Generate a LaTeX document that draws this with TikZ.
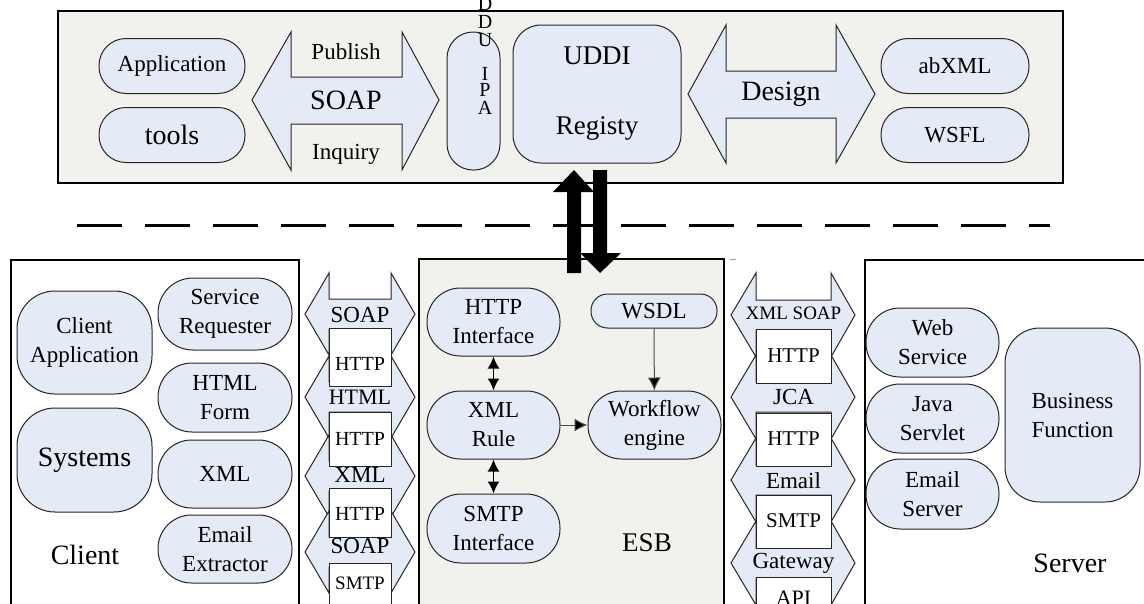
\documentclass[tikz,border=0pt]{standalone}
\usepackage{fontspec}
\setmainfont{Liberation Serif}
\usetikzlibrary{arrows.meta}
\definecolor{pillfill}{HTML}{E4EAF6}
\definecolor{boxfill}{HTML}{F1F2EE}
\newcommand{\fsz}[2]{\fontsize{#1}{#2}\selectfont}
\tikzset{
  pill/.style={draw=black!85, line width=1pt, fill=pillfill, align=center, inner sep=0pt, font=\fsz{23}{29}},
  frame/.style={draw=black, line width=1.6pt},
  blockarrow/.style={draw=black!85, line width=1pt, fill=pillfill},
  whitebox/.style={draw=black!85, line width=1pt, fill=white},
  txt/.style={inner sep=0pt, align=center, font=\fsz{23}{29}},
  bigtxt/.style={inner sep=0pt, align=center, font=\fsz{28}{34}},
  conn/.style={line width=1.8pt, {Latex[length=12pt,width=12pt]}-{Latex[length=12pt,width=12pt]}},
  thinconn/.style={draw=black!70, line width=1pt, -{Latex[length=13pt,width=13pt,fill=black]}},
}
\begin{document}
\begin{tikzpicture}[x=1pt,y=-1pt]
\useasboundingbox (0,0) rectangle (1144,603);
\fill[white] (0,0) rectangle (1144,603);

% ---------- top registry box ----------
\draw[frame, fill=boxfill] (58,11) rectangle (1063,183);

\node[pill, minimum width=146pt, minimum height=55pt, rounded corners=27pt] (app) at (172,66) {Application};
\node[pill, minimum width=146pt, minimum height=55pt, rounded corners=27pt, font=\fsz{28}{34}] (tools) at (172,135) {tools};

\draw[blockarrow] (252,100) -- (291,32) -- (291,77) -- (402,77) -- (402,32) -- (439,100)
  -- (402,170) -- (402,124) -- (291,124) -- (291,170) -- cycle;
\node[txt] (publish) at (346,52) {Publish};
\node[bigtxt] (soaptop) at (346,100) {SOAP};
\node[txt] (inquiry) at (346,154) {Inquiry};

\node[pill, minimum width=53pt, minimum height=138pt, rounded corners=26pt] (api) at (473.5,101) {};
\begin{scope}[every node/.style={inner sep=0pt, font=\fsz{20}{20}}]
\node (l0) at (485,4) {D};
\node (l1) at (485,22) {D};
\node (l2) at (485,40) {U};
\node (l3) at (485,74) {I};
\node (l4) at (485,90) {P};
\node (l5) at (485,108) {A};
\end{scope}

\node[pill, minimum width=168pt, minimum height=138pt, rounded corners=28pt, font=\fsz{27}{70}] (uddi) at (597,94) {UDDI\\Registy};

\draw[blockarrow] (688,94) -- (726,25) -- (726,71) -- (836,71) -- (836,25) -- (875,94)
  -- (836,163) -- (836,118) -- (726,118) -- (726,163) -- cycle;
\node[bigtxt] (design) at (781,94) {Design};

\node[pill, minimum width=148pt, minimum height=55pt, rounded corners=27pt] (abxml) at (955,66) {abXML};
\node[pill, minimum width=148pt, minimum height=55pt, rounded corners=27pt] (wsfl) at (955,135) {WSFL};

% ---------- dashed separator ----------
\draw[line width=3pt, dash pattern=on 45pt off 23pt] (77,225) -- (1050,225);

% ---------- bottom containers ----------
\draw[frame, fill=white] (11,260) rectangle (299,640);
\draw[frame, fill=boxfill] (419,259) rectangle (724,640);
\draw[frame, fill=white] (865,260) rectangle (1160,640);
\draw[black!40, line width=1pt] (730,259) -- (736,259);

% ---------- heavy arrows ----------
\fill[black] (567,273) -- (581,273) -- (581,192) -- (594,192) -- (574,170) -- (553,192) -- (567,192) -- cycle;
\fill[black] (593,170) -- (607,170) -- (607,253) -- (621,253) -- (600,273) -- (580,253) -- (593,253) -- cycle;

% ---------- client ----------
\node[pill, minimum width=135pt, minimum height=103pt, rounded corners=38pt] (capp) at (84.5,342.5) {Client\\Application};
\node[pill, minimum width=135pt, minimum height=104pt, rounded corners=38pt, font=\fsz{28}{34}] (sys) at (84.5,460) {Systems};
\node[pill, minimum width=134pt, minimum height=72pt, rounded corners=35pt] (sreq) at (225,314) {Service\\Requester};
\node[pill, minimum width=134pt, minimum height=69pt, rounded corners=34pt] (hform) at (225,397.5) {HTML\\Form};
\node[pill, minimum width=134pt, minimum height=68pt, rounded corners=33.5pt] (xmlc) at (225,474) {XML};
\node[pill, minimum width=134pt, minimum height=68pt, rounded corners=33.5pt] (eext) at (225,549) {Email\\Extractor};
\node[bigtxt] (clientlbl) at (85,555) {Client};

% ---------- left protocol column ----------
\foreach \c in {314,397,476,552}
  \draw[blockarrow] (305,\c) -- (329,\c-41) -- (329,\c-15) -- (391,\c-15) -- (391,\c-41) -- (415,\c)
    -- (391,\c+41) -- (391,\c+15) -- (329,\c+15) -- (329,\c+41) -- cycle;
\draw[whitebox] (329,328) rectangle (391,386);
\draw[whitebox] (329,412) rectangle (391,466);
\draw[whitebox] (329,488) rectangle (391,537);
\draw[whitebox] (329,563) rectangle (391,640);
\node[txt] (lsoap1) at (360,315) {SOAP};
\node[txt, font=\fsz{20}{24}] (lhttp1) at (360,364) {HTTP};
\node[txt, font=\fsz{22}{26}] (lhtml) at (360,397) {HTML};
\node[txt, font=\fsz{20}{24}] (lhttp2) at (360,439) {HTTP};
\node[txt] (lxml) at (360,475) {XML};
\node[txt, font=\fsz{20}{24}] (lhttp3) at (360,514) {HTTP};
\node[txt] (lsoap2) at (360,546) {SOAP};
\node[txt, font=\fsz{19}{23}] (lsmtp) at (360,583) {SMTP};

% ---------- ESB ----------
\node[pill, minimum width=133pt, minimum height=68pt, rounded corners=33.5pt] (hif) at (493.5,322) {HTTP\\Interface};
\node[pill, minimum width=133pt, minimum height=68pt, rounded corners=33.5pt] (xrule) at (493.5,425) {XML\\Rule};
\node[pill, minimum width=133pt, minimum height=69pt, rounded corners=34pt] (sif) at (493.5,528.5) {SMTP\\Interface};
\node[pill, minimum width=126pt, minimum height=34pt, rounded corners=16.5pt] (wsdl) at (654,311) {WSDL};
\node[pill, minimum width=133pt, minimum height=68pt, rounded corners=33.5pt] (wfe) at (654.5,425) {Workflow\\engine};
\node[txt, font=\fsz{27}{32}] (esblbl) at (647,543) {ESB};
\draw[conn] (hif) -- (xrule);
\draw[conn] (xrule) -- (sif);
\draw[thinconn] (xrule) -- (wfe);
\draw[thinconn] (wsdl) -- (wfe);

% ---------- right protocol column ----------
\foreach \c in {315,397,480,563}
  \draw[blockarrow] (731,\c) -- (756,\c-42) -- (756,\c-15) -- (831,\c-15) -- (831,\c-42) -- (855,\c)
    -- (831,\c+42) -- (831,\c+15) -- (756,\c+15) -- (756,\c+42) -- cycle;
\draw[whitebox] (756,329) rectangle (831,383);
\draw[whitebox] (756,413) rectangle (831,466);
\draw[whitebox] (756,495) rectangle (831,548);
\draw[whitebox] (756,577) rectangle (831,640);
\node[txt, font=\fsz{19}{23}] (rxs) at (793.5,313) {XML SOAP};
\node[txt, font=\fsz{21}{25}] (rhttp1) at (793.5,356) {HTTP};
\node[txt] (rjca) at (793.5,397) {JCA};
\node[txt, font=\fsz{21}{25}] (rhttp2) at (793.5,439) {HTTP};
\node[txt] (remail) at (793.5,481) {Email};
\node[txt, font=\fsz{21}{25}] (rsmtp) at (793.5,521) {SMTP};
\node[txt] (rgw) at (793.5,563) {Gateway};
\node[txt, font=\fsz{22}{26}] (rapi) at (793.5,598) {API};

% ---------- server ----------
\node[pill, minimum width=133pt, minimum height=69pt, rounded corners=34pt] (websvc) at (932.5,342.5) {Web\\Service};
\node[pill, minimum width=133pt, minimum height=69pt, rounded corners=34pt] (jserv) at (932.5,418.5) {Java\\Servlet};
\node[pill, minimum width=133pt, minimum height=70pt, rounded corners=34.5pt] (esrv) at (932.5,494) {Email\\Server};
\node[pill, minimum width=135pt, minimum height=174pt, rounded corners=35pt] (bfunc) at (1072.5,415) {Business\\Function};
\node[bigtxt] (serverlbl) at (1070,563) {Server};
\end{tikzpicture}
\end{document}
